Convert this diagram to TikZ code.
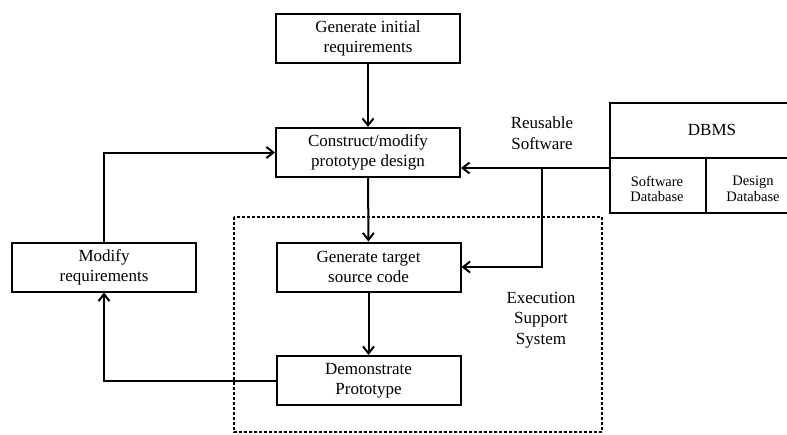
\documentclass[tikz,border=0pt]{standalone}
\usepackage{fontspec}
\setmainfont{Liberation Serif}
\usetikzlibrary{arrows.meta}
\begin{document}
\begin{tikzpicture}[x=1pt,y=-1pt,
  box/.style={draw,line width=2pt,minimum width=184pt,minimum height=49pt,inner sep=0pt,align=center,font=\fontsize{17}{20}\selectfont},
  lbl/.style={align=center,inner sep=0pt,font=\fontsize{17}{20.5}\selectfont},
  small/.style={align=center,inner sep=0pt,font=\fontsize{14.5}{15.5}\selectfont},
  conn/.style={line width=2pt,-{Straight Barb[length=7pt,width=11pt,line width=2pt]}},
  plain/.style={line width=2pt},
  ess/.style={line width=1.5pt,dash pattern=on 3pt off 2pt}]
\useasboundingbox (0,0) rectangle (787,434);
\node[box] (gir) at (368,38.5) {Generate initial\\requirements};
\node[box] (cmp) at (368,152.5) {Construct/modify\\prototype design};
\node[box] (mr) at (104,267) {Modify\\requirements};
\node[box] (gtc) at (368.5,267) {Generate target\\source code};
\node[box] (dp) at (368.5,380.5) {Demonstrate\\Prototype};
\draw[ess] (234,217) rectangle (602,432);
\node[lbl] (ess) at (541,320) {Execution\\Support\\System};
\node[lbl] (rs) at (542,133) {Reusable\\Software};
% DBMS
\draw[plain] (790,103) -- (610,103) -- (610,213) -- (790,213);
\draw[plain] (610,158) -- (790,158);
\draw[plain] (706,158) -- (706,214);
\node[lbl] (dbms) at (712,130) {DBMS};
\node[small] (sdb) at (657,189) {Software\\Database};
\node[small] (ddb) at (753,189) {Design\\Database};
\coordinate (dbin) at (610,168);
\coordinate (j) at (542,168);
% connectors
\draw[conn] (gir) -- (cmp);
\draw[conn] (cmp) -- (gtc);
\draw[conn] (gtc) -- (dp);
\draw[conn] (dbin) -- (cmp.east |- dbin);
\draw[conn] (j) |- (gtc.east);
\draw[conn] (mr.north) |- (cmp.west);
\draw[conn] (dp.west) -| (mr.south);
\end{tikzpicture}
\end{document}
